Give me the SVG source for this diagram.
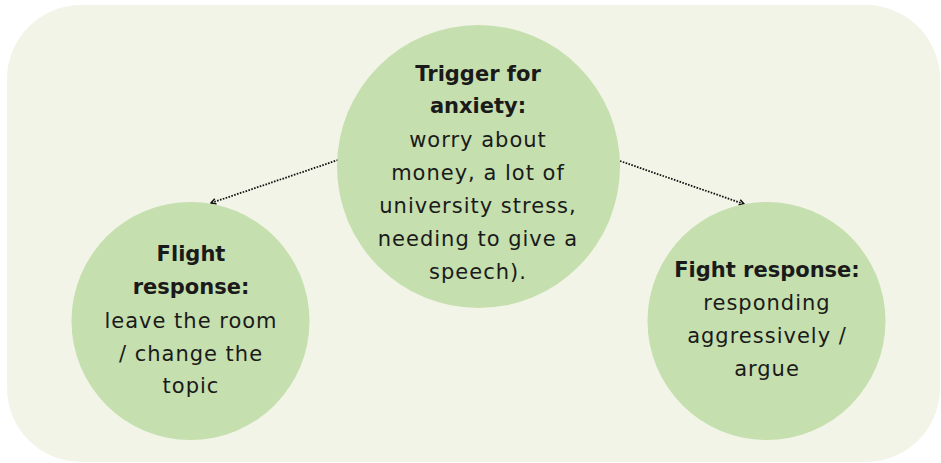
<svg xmlns="http://www.w3.org/2000/svg" width="941" height="463" viewBox="0 0 941 463">
  <defs>
    <marker id="arrowhead" viewBox="0 0 10 10" refX="8" refY="5" markerWidth="7" markerHeight="7" orient="auto" markerUnits="userSpaceOnUse">
      <path d="M1,1 L8,5 L1,9" fill="none" stroke="#111" stroke-width="2.2"/>
    </marker>
  </defs>
  <style>
    .panel { fill: #f2f4e7; }
    .bubble { fill: #c5dfae; }
    .label { font-family: "DejaVu Sans", "Open Sans", sans-serif; font-size: 21px; fill: #1a1a1a; text-anchor: middle; letter-spacing: 1px; }
    .bold { font-weight: 700; letter-spacing: 0; }
    .link { fill: none; stroke: #111; stroke-width: 1.8; stroke-dasharray: 1.6 1.4; marker-end: url(#arrowhead); }
  </style>

  <rect class="panel" x="7" y="5" width="933" height="457" rx="74" ry="74"/>

  <g id="connectors">
    <line class="link" x1="338" y1="160" x2="211" y2="203"/>
    <line class="link" x1="620" y1="161" x2="744" y2="204"/>
  </g>

  <g id="trigger">
    <circle class="bubble" cx="478.5" cy="166.5" r="141.5"/>
    <text class="label bold" x="478" y="81">Trigger for</text>
    <text class="label bold" x="478" y="113">anxiety:</text>
    <text class="label" x="478" y="147">worry about</text>
    <text class="label" x="478" y="180">money, a lot of</text>
    <text class="label" x="478" y="213">university stress,</text>
    <text class="label" x="478" y="246">needing to give a</text>
    <text class="label" x="478" y="279">speech).</text>
  </g>

  <g id="flight">
    <circle class="bubble" cx="190.5" cy="321" r="119"/>
    <text class="label bold" x="191" y="261">Flight</text>
    <text class="label bold" x="191" y="294">response:</text>
    <text class="label" x="191" y="328">leave the room</text>
    <text class="label" x="191" y="361">/ change the</text>
    <text class="label" x="191" y="393">topic</text>
  </g>

  <g id="fight">
    <circle class="bubble" cx="766.5" cy="321" r="119"/>
    <text class="label bold" x="767" y="277">Fight response:</text>
    <text class="label" x="767" y="310">responding</text>
    <text class="label" x="767" y="343">aggressively /</text>
    <text class="label" x="767" y="376">argue</text>
  </g>
</svg>
